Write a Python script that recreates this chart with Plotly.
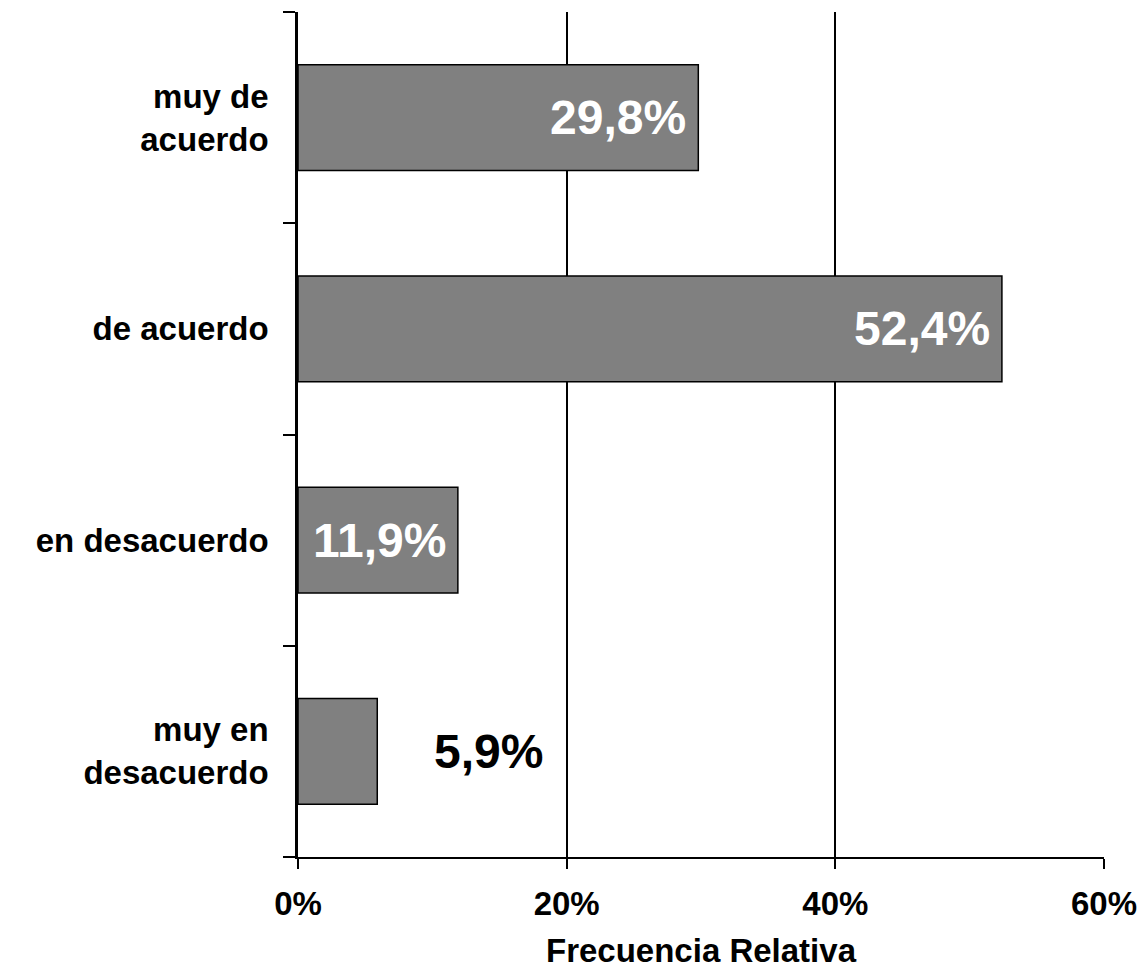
import plotly.graph_objects as go

# Response categories (top to bottom) and their relative frequencies (%)
categories = ["muy de<br>acuerdo", "de acuerdo", "en desacuerdo", "muy en<br>desacuerdo"]
values = [29.8, 52.4, 11.9, 5.9]
label_inside = [True, True, True, False]

x_ticks = [0, 20, 40, 60]
x_tick_labels = ["0%", "20%", "40%", "60%"]

FONT = "Liberation Sans, Arial, sans-serif"

fig = go.Figure(
    go.Bar(
        x=values,
        y=categories,
        orientation="h",
        marker=dict(color="#808080", line=dict(color="black", width=1.5)),
        width=0.5,
        hoverinfo="skip",
    )
)

# Value labels: white inside the bar end, or black beside short bars
for cat, val, inside in zip(categories, values, label_inside):
    text = f"{val:.1f}%".replace(".", ",")
    fig.add_annotation(
        x=val,
        y=cat,
        text=f"<b>{text}</b>",
        showarrow=False,
        xanchor="right" if inside else "left",
        xshift=-10 if inside else 55,
        font=dict(family=FONT, size=48, color="white" if inside else "black"),
    )

fig.update_layout(
    width=1148,
    height=969,
    margin=dict(l=298, r=44, t=12, b=112),
    paper_bgcolor="white",
    plot_bgcolor="white",
    showlegend=False,
    font=dict(family=FONT, color="black"),
    xaxis=dict(
        automargin=False,
        range=[0, 60],
        tickvals=x_ticks,
        ticktext=[f"<b>{t}</b>" for t in x_tick_labels],
        tickfont=dict(size=33, family=FONT, color="black"),
        showgrid=True,
        gridcolor="black",
        gridwidth=1.5,
        zeroline=False,
        showline=True,
        linecolor="black",
        linewidth=2,
        ticks="outside",
        ticklen=10,
        tickwidth=2,
        tickcolor="black",
        ticklabelstandoff=6,
        title=dict(
            text="<b>Frecuencia Relativa</b>",
            font=dict(size=33, family=FONT, color="black"),
            standoff=18,
        ),
    ),
    yaxis=dict(
        automargin=False,
        categoryorder="array",
        categoryarray=categories,
        autorange="reversed",
        tickson="boundaries",
        ticks="outside",
        ticklen=12,
        tickwidth=2,
        tickcolor="black",
        showline=True,
        linecolor="black",
        linewidth=2.5,
        showgrid=False,
        tickfont=dict(size=33, family=FONT, color="black"),
        ticktext=[f"<b>{c}</b>" for c in categories],
        tickvals=categories,
        ticklabelstandoff=20,
    ),
)

fig.write_html("out.html")
